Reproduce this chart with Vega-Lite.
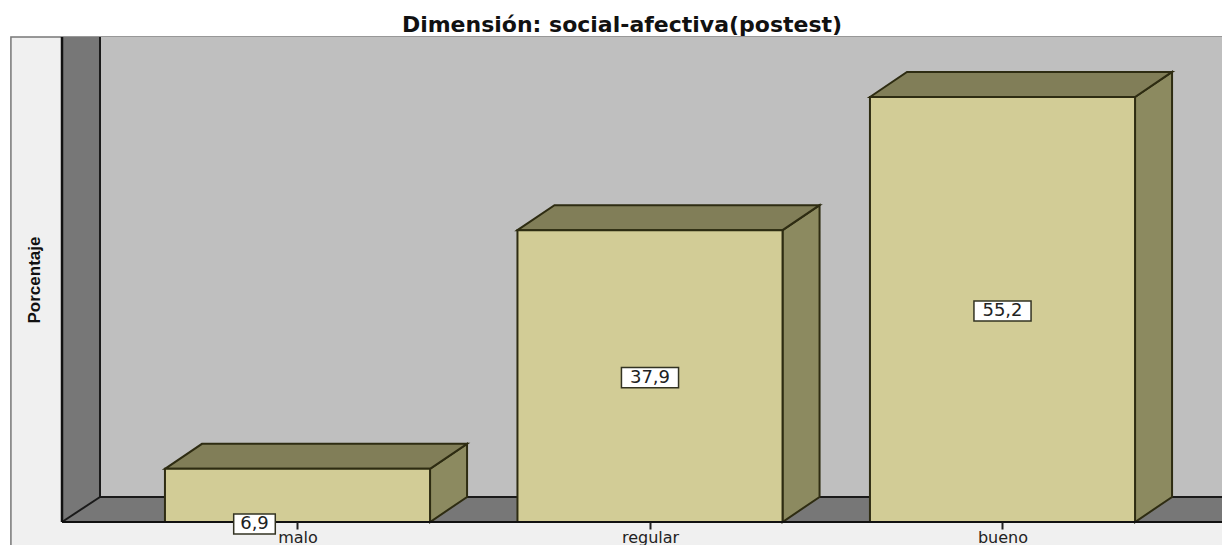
{
"$schema":"https://vega.github.io/schema/vega-lite/v6.json",
"autosize":"none","width":1160,"height":485,
"padding":{"left":62,"top":37,"right":0,"bottom":23},
"background":"#ffffff",
"title":{"text":"Dimensión: social-afectiva(postest)","font":"DejaVu Sans","fontSize":22,"fontWeight":"bold","color":"#111111","dx":-20,"offset":-1,"anchor":"middle"},
"config":{"view":{"stroke":null}},
"resolve":{"axis":{"x":"independent","y":"independent"}},
"datasets":{"bars":[{"category":"malo","idx":1,"value":6.9},{"category":"regular","idx":2,"value":37.9},{"category":"bueno","idx":3,"value":55.2}],"one":[{"n":1}]},
"layer":[
{"data":{"name":"one"},"mark":{"type":"rect","fill":"#f0f0f0","stroke":"#777777","strokeWidth":1.5,"clip":false},
"encoding":{"x":{"datum":0.187,"type":"quantitative","scale":{"domain":[0.33192,3.6227],"nice":false,"zero":false},
"axis":{"values":[1,2,3],"labelExpr":"['','malo','regular','bueno'][datum.value]","title":null,"domain":false,"grid":false,"tickColor":"#222222","tickSize":7,"tickWidth":2,"labelFont":"DejaVu Sans","labelFontSize":16,"labelColor":"#222222","labelPadding":0,"labelBaseline":"top","zindex":1}},
"x2":{"datum":3.7},
"y":{"datum":-5,"type":"quantitative","scale":{"domain":[0,62.987],"nice":false,"zero":false},
"axis":{"title":"Porcentaje","domain":false,"ticks":false,"labels":false,"grid":false,"titleFont":"Liberation Sans","titleFontSize":17,"titleFontWeight":"bold","titleColor":"#111111","titlePadding":19,"zindex":1}},
"y2":{"datum":62.987}}},
{"data":{"name":"one"},"mark":{"type":"rect","fill":"#bfbfbf"},
"encoding":{"x":{"datum":0.33192,"type":"quantitative","scale":{"domain":[0.33192,3.6227],"nice":false,"zero":false},"axis":null},"x2":{"datum":3.6227},
"y":{"datum":0,"type":"quantitative","scale":{"domain":[0,62.987],"nice":false,"zero":false},"axis":null},"y2":{"datum":62.987}}},
{"data":{"name":"one"},"mark":{"type":"rect","fill":"#777777"},
"encoding":{"x":{"datum":0.33192,"type":"quantitative","scale":{"domain":[0.33192,3.6227],"nice":false,"zero":false},"axis":null},"x2":{"datum":0.43972},
"y":{"datum":0,"type":"quantitative","scale":{"domain":[0,62.987],"nice":false,"zero":false},"axis":null},"y2":{"datum":62.987}}},
{"data":{"name":"one"},"mark":{"type":"rect","fill":"#777777"},
"encoding":{"x":{"datum":0.33192,"type":"quantitative","scale":{"domain":[0.33192,3.6227],"nice":false,"zero":false},"axis":null},"x2":{"datum":3.6227},
"y":{"datum":0,"type":"quantitative","scale":{"domain":[0,62.987],"nice":false,"zero":false},"axis":null},"y2":{"datum":3.25}}},
{"data":{"name":"one"},"mark":{"type":"rule","color":"#1a1a1a","strokeWidth":2},
"encoding":{"x":{"datum":0.43972,"type":"quantitative","scale":{"domain":[0.33192,3.6227],"nice":false,"zero":false},"axis":null},
"y":{"datum":3.25,"type":"quantitative","scale":{"domain":[0,62.987],"nice":false,"zero":false},"axis":null},"y2":{"datum":62.987}}},
{"data":{"name":"one"},"mark":{"type":"rule","color":"#1a1a1a","strokeWidth":2},
"encoding":{"x":{"datum":0.43972,"type":"quantitative","scale":{"domain":[0.33192,3.6227],"nice":false,"zero":false},"axis":null},"x2":{"datum":3.6227},
"y":{"datum":3.25,"type":"quantitative","scale":{"domain":[0,62.987],"nice":false,"zero":false},"axis":null}}},
{"data":{"name":"one"},"mark":{"type":"rule","color":"#1a1a1a","strokeWidth":2},
"encoding":{"x":{"datum":0.33192,"type":"quantitative","scale":{"domain":[0.33192,3.6227],"nice":false,"zero":false},"axis":null},"x2":{"datum":0.43972},
"y":{"datum":0,"type":"quantitative","scale":{"domain":[0,62.987],"nice":false,"zero":false},"axis":null},"y2":{"datum":3.25}}},
{"data":{"name":"one"},"mark":{"type":"rule","color":"#111111","strokeWidth":2.5},
"encoding":{"x":{"datum":0.33192,"type":"quantitative","scale":{"domain":[0.33192,3.6227],"nice":false,"zero":false},"axis":null},
"y":{"datum":0,"type":"quantitative","scale":{"domain":[0,62.987],"nice":false,"zero":false},"axis":null},"y2":{"datum":62.987}}},
{"data":{"name":"bars"},
"transform":[{"calculate":"[0,1]","as":"k"},{"flatten":["k"]},
{"calculate":"datum.idx+0.376+datum.k*0.105","as":"sx"},{"calculate":"datum.k*3.25","as":"sy2"},{"calculate":"datum.value+datum.k*3.25","as":"sy"}],
"mark":{"type":"area","orient":"vertical","fill":"#8c8a60","stroke":"#2e2c12","strokeWidth":2},
"encoding":{"detail":{"field":"category"},"x":{"field":"sx","type":"quantitative","scale":{"domain":[0.33192,3.6227],"nice":false,"zero":false},"axis":null},
"y":{"field":"sy","type":"quantitative","scale":{"domain":[0,62.987],"nice":false,"zero":false},"axis":null},"y2":{"field":"sy2"}}},
{"data":{"name":"bars"},
"transform":[{"calculate":"[0,1,2,3]","as":"k"},{"flatten":["k"]},
{"calculate":"[datum.idx-0.376,datum.idx-0.271,datum.idx+0.376,datum.idx+0.481][datum.k]","as":"tx"},
{"calculate":"datum.value+(datum.k==3?3.25:0)","as":"ty2"},{"calculate":"datum.value+(datum.k==0?0:3.25)","as":"ty"}],
"mark":{"type":"area","orient":"vertical","fill":"#817e58","stroke":"#2e2c12","strokeWidth":2},
"encoding":{"detail":{"field":"category"},"x":{"field":"tx","type":"quantitative","scale":{"domain":[0.33192,3.6227],"nice":false,"zero":false},"axis":null},
"y":{"field":"ty","type":"quantitative","scale":{"domain":[0,62.987],"nice":false,"zero":false},"axis":null},"y2":{"field":"ty2"}}},
{"data":{"name":"bars"},
"transform":[{"calculate":"datum.idx-0.376","as":"l"},{"calculate":"datum.idx+0.376","as":"r"}],
"mark":{"type":"rect","fill":"#d2cc96","stroke":"#2e2c12","strokeWidth":2},
"encoding":{"x":{"field":"l","type":"quantitative","scale":{"domain":[0.33192,3.6227],"nice":false,"zero":false},"axis":null},"x2":{"field":"r"},
"y":{"field":"value","type":"quantitative","scale":{"domain":[0,62.987],"nice":false,"zero":false},"axis":null},"y2":{"datum":0}}},
{"data":{"name":"one"},"mark":{"type":"rule","color":"#111111","strokeWidth":2},
"encoding":{"x":{"datum":0.33192,"type":"quantitative","scale":{"domain":[0.33192,3.6227],"nice":false,"zero":false},"axis":null},"x2":{"datum":3.6227},
"y":{"datum":0,"type":"quantitative","scale":{"domain":[0,62.987],"nice":false,"zero":false},"axis":null}}},
{"data":{"name":"bars"},
"transform":[{"calculate":"datum.value<10?datum.idx-0.122:datum.idx","as":"lx"},{"calculate":"datum.value<10?-0.26:datum.value/2-0.2","as":"ly"},
{"calculate":"datum.value<10?0.059:0.081","as":"hw"},{"calculate":"datum.lx-datum.hw","as":"bl"},{"calculate":"datum.lx+datum.hw","as":"br"},{"calculate":"datum.ly-1.3","as":"bb"},{"calculate":"datum.ly+1.3","as":"bt"}],
"mark":{"type":"rect","fill":"#ffffff","stroke":"#333322","strokeWidth":1.5},
"encoding":{"x":{"field":"bl","type":"quantitative","scale":{"domain":[0.33192,3.6227],"nice":false,"zero":false},"axis":null},"x2":{"field":"br"},
"y":{"field":"bb","type":"quantitative","scale":{"domain":[0,62.987],"nice":false,"zero":false},"axis":null},"y2":{"field":"bt"}}},
{"data":{"name":"bars"},
"transform":[{"calculate":"datum.value<10?datum.idx-0.122:datum.idx","as":"lx"},{"calculate":"datum.value<10?-0.26:datum.value/2-0.2","as":"ly"},
{"calculate":"replace(format(datum.value,'.1f'),'.',',')","as":"lab"}],
"mark":{"type":"text","font":"DejaVu Sans","fontSize":18,"color":"#222222","align":"center","baseline":"middle"},
"encoding":{"text":{"field":"lab"},"x":{"field":"lx","type":"quantitative","scale":{"domain":[0.33192,3.6227],"nice":false,"zero":false},"axis":null},
"y":{"field":"ly","type":"quantitative","scale":{"domain":[0,62.987],"nice":false,"zero":false},"axis":null}}}
]}
